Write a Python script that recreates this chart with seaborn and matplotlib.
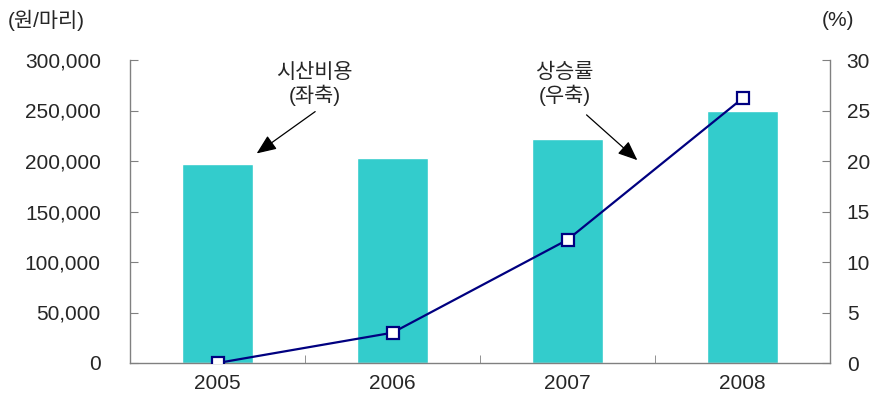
import numpy as np
import pandas as pd
import matplotlib
matplotlib.use("Agg")
import matplotlib.pyplot as plt
import seaborn as sns
from matplotlib.ticker import FuncFormatter

years = ["2005", "2006", "2007", "2008"]
cost = [197000, 203000, 222000, 250000]     # 시산비용 (원/마리), left axis
rise = [0.0, 3.0, 12.2, 26.2]               # 상승률 (%), right axis

sns.set_style("white")
plt.rcParams["font.family"] = ["Liberation Sans", "Noto Sans CJK KR", "DejaVu Sans"]

df = pd.DataFrame({"year": years, "cost": cost, "rise": rise, "pos": np.arange(len(years))})

fig = plt.figure(figsize=(8.8, 4.12), dpi=100)
ax = fig.add_axes([130/880, 1-363/412, 700/880, 303/412])

sns.barplot(data=df, x="year", y="cost", color="#33CCCC", saturation=1,
            width=0.405, ax=ax)
ax.set_xlim(-0.5, 3.5)
ax.set_ylim(0, 300000)
ax.set_yticks(np.arange(0, 300001, 50000))
ax.yaxis.set_major_formatter(FuncFormatter(lambda v, p: f"{int(v):,}"))
ax.set_xlabel("")
ax.set_ylabel("")

ax2 = ax.twinx()
sns.lineplot(data=df, x="pos", y="rise", color="#000080", lw=1.6, marker="s",
             markersize=9, markerfacecolor="white", markeredgecolor="#000080",
             markeredgewidth=1.6, ax=ax2, zorder=5)
ax2.set_ylim(0, 30)
ax2.set_yticks(np.arange(0, 31, 5))
ax2.set_xlim(-0.5, 3.5)
ax2.set_xlabel("")
ax2.set_ylabel("")

for a in (ax, ax2):
    for s in a.spines.values():
        s.set_color("#808080")
        s.set_linewidth(1)
    a.spines["top"].set_visible(False)
ax.spines["right"].set_visible(False)
ax2.spines["left"].set_visible(False)
ax2.spines["bottom"].set_visible(False)

fs = 15
ax.tick_params(axis="y", direction="in", length=6, color="#808080", labelsize=fs, pad=21, left=True)
ax2.tick_params(axis="y", direction="in", length=6, color="#808080", labelsize=fs, pad=12, right=True)
# x ticks sit between categories, labels under bars
ax.set_xticks([0.5, 1.5, 2.5], minor=True)
ax.tick_params(axis="x", which="major", length=0, labelsize=fs, pad=8)
ax.tick_params(axis="x", which="minor", direction="in", length=6, color="#808080", bottom=True)

fig.text(8/880, 1-20/412, "(원/마리)", fontsize=fs, va="center", ha="left")
fig.text(822/880, 1-20/412, "(%)", fontsize=fs, va="center", ha="left")

arrow = dict(arrowstyle="-|>,head_length=1.2,head_width=0.5", color="black", lw=0.9)
ax.text(0.554, 276000, "시산비용\n(좌축)", ha="center", va="center", fontsize=fs,
        linespacing=1.15)
ax.annotate("", xy=(0.211, 205900), xytext=(0.571, 250500), arrowprops=arrow)
ax.text(1.983, 276000, "상승률\n(우축)", ha="center", va="center", fontsize=fs,
        linespacing=1.15)
ax.annotate("", xy=(2.411, 199000), xytext=(2.097, 247500), arrowprops=arrow)

fig.savefig("out.png", dpi=100)
